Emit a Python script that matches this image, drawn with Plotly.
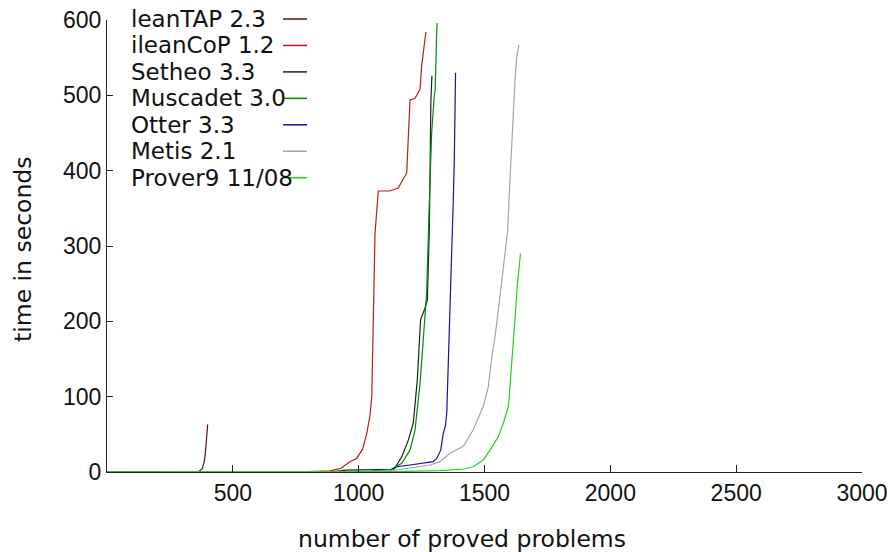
import plotly.graph_objects as go

# ---------------- data ----------------
names = ["leanTAP 2.3", "ileanCoP 1.2", "Setheo 3.3", "Muscadet 3.0",
         "Otter 3.3", "Metis 2.1", "Prover9 11/08"]
colors = ["#5c1010", "#c41818", "#202020", "#008a00", "#12129a", "#a4a4a4", "#1ed21e"]

leantap_x = [1, 300, 365, 378, 385, 390, 395, 400]
leantap_y = [0, 0.2, 1, 4, 11.5, 22, 40, 63]

ileancop_x = [1, 500, 700, 800, 886, 930, 965, 992, 1015, 1032, 1045, 1052, 1058,
              1065, 1078, 1124, 1157, 1171, 1191, 1198, 1204, 1224, 1244, 1250, 1258, 1267]
ileancop_y = [0, 0.1, 0.3, 0.6, 1.5, 5, 13.7, 18, 30, 51, 75, 100, 200,
              317, 373, 373, 377, 385, 397, 450, 494, 496, 508, 538, 562, 584]

setheo_x = [1, 900, 950, 1140, 1151, 1171, 1197, 1217, 1233, 1246, 1263, 1273,
            1281, 1283, 1287, 1291]
setheo_y = [0, 0.5, 2.5, 3.5, 9.3, 20, 42, 65, 122, 202, 217, 228,
            326, 405, 494, 526]

muscadet_x = [1, 900, 1050, 1124, 1171, 1204, 1224, 1244, 1259, 1270, 1279, 1290,
              1300, 1304, 1310, 1312]
muscadet_y = [0, 0.3, 1, 2.7, 11.5, 29, 56, 118, 184, 237, 339, 450,
              498, 507, 582, 596]

otter_x = [1, 900, 1050, 1124, 1151, 1204, 1257, 1296, 1310, 1326, 1336, 1345, 1350,
           1356, 1363, 1370, 1376, 1380, 1385]
otter_y = [0, 0.2, 0.8, 1.7, 7, 9.3, 11.5, 13.7, 18, 29, 51, 62, 78,
           140, 202, 273, 361, 414, 530]

metis_x = [1, 900, 1050, 1151, 1283, 1323, 1363, 1416, 1455, 1495, 1515, 1528,
           1542, 1555, 1568, 1581, 1592, 1600, 1608, 1615, 1622, 1628, 1637]
metis_y = [0, 0.2, 0.8, 2.7, 9.3, 13.7, 25, 34, 56, 87, 113, 150,
           180, 215, 250, 285, 320, 380, 440, 490, 525, 550, 567]

prover9_x = [1, 900, 1150, 1323, 1420, 1455, 1495, 1522, 1555, 1575, 1595, 1601,
             1612, 1621, 1630, 1638, 1643]
prover9_y = [0, 0.1, 0.5, 1.7, 4, 7, 16, 29, 47, 65, 87, 113,
             158, 202, 246, 281, 290]

series_x = [leantap_x, ileancop_x, setheo_x, muscadet_x, otter_x, metis_x, prover9_x]
series_y = [leantap_y, ileancop_y, setheo_y, muscadet_y, otter_y, metis_y, prover9_y]

x_ticks = [500, 1000, 1500, 2000, 2500, 3000]
y_ticks = [0, 100, 200, 300, 400, 500, 600]

# ---------------- figure ----------------
OFF = 8  # default page body margin
W, H = 895 - OFF, 552 - OFF
ML, MR, MT, MB = 107 - OFF, 33, 20 - OFF, 80
PW, PH = W - ML - MR, H - MT - MB

def px_x(p):
    # p is a pixel position in the screenshot
    return (p - OFF - ML) / PW

def px_y(p):
    return (H - MB - (p - OFF)) / PH

fig = go.Figure()
for i in range(len(names)):
    fig.add_trace(go.Scatter(x=series_x[i], y=series_y[i], mode="lines",
                             name=names[i], line=dict(color=colors[i], width=1.2),
                             showlegend=False))

TEXT_FONT = "DejaVu Sans"
annotations = []
shapes = []
row0, step = 19.0, 26.45
for i, nm in enumerate(names):
    yy = px_y(row0 + i * step)
    annotations.append(dict(text=nm, x=px_x(129), y=yy, xref="paper", yref="paper",
                            xanchor="left", yanchor="middle", showarrow=False,
                            font=dict(family=TEXT_FONT, size=23, color="#111")))
    shapes.append(dict(type="line", xref="paper", yref="paper",
                       x0=px_x(283), x1=px_x(307), y0=yy, y1=yy,
                       line=dict(color=colors[i], width=1.5)))

annotations.append(dict(text="number of proved problems", x=px_x(462), y=px_y(538.5),
                        xref="paper", yref="paper", xanchor="center", yanchor="middle",
                        showarrow=False, font=dict(family=TEXT_FONT, size=23.5, color="#111")))
annotations.append(dict(text="time in seconds", x=px_x(23), y=px_y(249),
                        xref="paper", yref="paper", xanchor="center", yanchor="middle",
                        textangle=-90, showarrow=False,
                        font=dict(family=TEXT_FONT, size=23.5, color="#111")))

axis_common = dict(showgrid=False, zeroline=False, showline=True, linecolor="#222",
                   linewidth=1, ticks="inside", tickcolor="#222", tickwidth=1,
                   tickfont=dict(family="Liberation Sans", size=23, color="#111"),
                   ticklabeloverflow="allow", mirror=False)

fig.update_layout(
    width=W, height=H,
    margin=dict(l=ML, r=MR, t=MT, b=MB, autoexpand=False),
    paper_bgcolor="white", plot_bgcolor="white",
    xaxis=dict(range=[0, 3000], tickvals=x_ticks, ticktext=[str(v) for v in x_ticks],
               ticklen=7, **axis_common),
    yaxis=dict(range=[0, 600], tickvals=y_ticks, ticktext=[str(v) for v in y_ticks],
               ticklen=6, **axis_common),
    annotations=annotations, shapes=shapes, showlegend=False,
)

fig.write_html("out.html")
